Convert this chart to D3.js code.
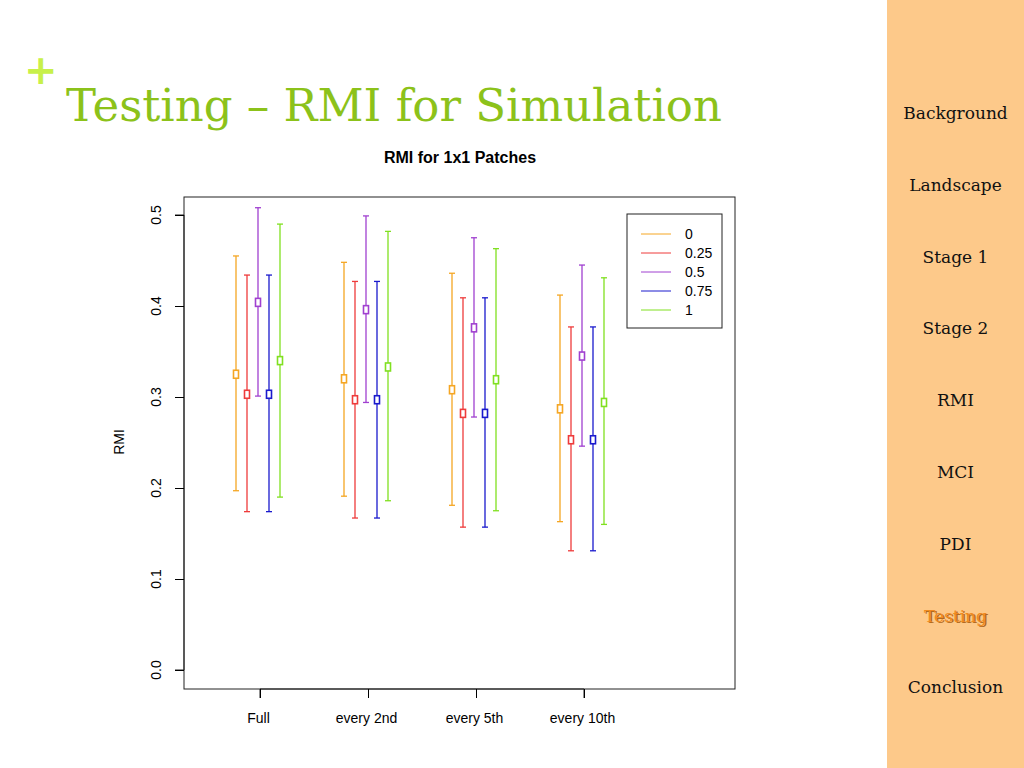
<!DOCTYPE html><html><head><meta charset="utf-8"><script src="https://cdn.jsdelivr.net/npm/d3@7"></script>
<style>body{margin:0;background:#fff}</style></head><body><svg id="c" width="1024" height="768"></svg>
<script>
const categories=["Full","every 2nd","every 5th","every 10th"];
const seriesNames=["0","0.25","0.5","0.75","1"];
const seriesColors=["#f5a623","#ee3b3b","#a040d0","#1a1acd","#80e020"];
const centers=[[0.325,0.303,0.404,0.303,0.340],[0.320,0.297,0.396,0.297,0.333],[0.308,0.282,0.376,0.282,0.319],[0.287,0.253,0.345,0.253,0.294]];
const uppers=[[0.455,0.434,0.508,0.434,0.490],[0.448,0.427,0.499,0.427,0.482],[0.436,0.409,0.475,0.409,0.463],[0.412,0.377,0.445,0.377,0.431]];
const lowers=[[0.197,0.174,0.301,0.174,0.190],[0.191,0.167,0.294,0.167,0.186],[0.181,0.157,0.278,0.157,0.175],[0.163,0.131,0.246,0.131,0.160]];
const yTicks=[0,0.1,0.2,0.3,0.4,0.5];
const navItems=["Background","Landscape","Stage 1","Stage 2","RMI","MCI","PDI","Testing","Conclusion"];
const svg=d3.select("#c");
svg.append("rect").attr("x",887).attr("y",0).attr("width",137).attr("height",768).attr("fill","#fdc98a");
navItems.forEach((t,i)=>{const y=119+i*71.8;
 if(t==="Testing")svg.append("text").attr("x",957).attr("y",y+1.5).attr("text-anchor","middle").attr("font-family","DejaVu Serif").attr("font-size",17).attr("fill","#b06a20").text(t);
 svg.append("text").attr("x",955.5).attr("y",y).attr("text-anchor","middle").attr("font-family","DejaVu Serif").attr("font-size",17).attr("fill",t==="Testing"?"#f08a20":"#111").text(t);});
svg.append("text").attr("x",24).attr("y",84).attr("font-family","DejaVu Sans").attr("font-weight","bold").attr("font-size",40).attr("fill","#c8f04a").text("+");
svg.append("text").attr("x",66).attr("y",121).attr("font-family","DejaVu Serif").attr("font-size",45).attr("fill","#8cc21a").text("Testing – RMI for Simulation");
svg.append("text").attr("x",460).attr("y",163).attr("text-anchor","middle").attr("font-family","Liberation Sans").attr("font-weight","bold").attr("font-size",16).text("RMI for 1x1 Patches");
const x=d3.scaleLinear().domain([1,4]).range([260,584]);
const y=d3.scaleLinear().domain([0,0.5]).range([670,215]);
const off=[-24,-13,-2,9,20];
svg.append("rect").attr("x",184).attr("y",197).attr("width",551).attr("height",492).attr("fill","none").attr("stroke","#222");
const ya=svg.append("g").attr("transform","translate(184,0)").call(d3.axisLeft(y).tickValues(yTicks).tickSize(9).tickFormat(""));
ya.select(".domain").attr("d","M-9,"+y(0)+"H0V"+y(0.5)+"H-9").attr("stroke","#222");
yTicks.forEach(v=>svg.append("text").attr("transform",`translate(161,${y(v)}) rotate(-90)`).attr("text-anchor","middle").attr("font-family","Liberation Sans").attr("font-size",14).text(d3.format(".1f")(v)));
svg.append("text").attr("transform","translate(124,442) rotate(-90)").attr("text-anchor","middle").attr("font-family","Liberation Sans").attr("font-size",14).text("RMI");
const xa=svg.append("g").attr("transform","translate(0,689)").call(d3.axisBottom(x).tickValues([1,2,3,4]).tickSize(9).tickFormat((d,i)=>categories[i]));
xa.select(".domain").attr("d","M"+x(1)+",9V0H"+x(4)+"V9").attr("stroke","#222");
xa.selectAll("text").attr("font-family","Liberation Sans").attr("font-size",14).attr("dy","1.6em").attr("dx","-2");
categories.forEach((c,ci)=>{seriesNames.forEach((s,si)=>{const cx=x(ci+1)+off[si],col=seriesColors[si],g=svg.append("g").attr("stroke",col).attr("fill","none").attr("stroke-width",1.3);
 g.append("line").attr("x1",cx).attr("x2",cx).attr("y1",y(uppers[ci][si])).attr("y2",y(lowers[ci][si]));
 [uppers[ci][si],lowers[ci][si]].forEach(v=>g.append("line").attr("x1",cx-3).attr("x2",cx+3).attr("y1",y(v)).attr("y2",y(v)));
 g.append("rect").attr("x",cx-2.5).attr("y",y(centers[ci][si])-4).attr("width",5).attr("height",8).attr("fill","#fff").attr("stroke-width",1.6);});});
svg.append("rect").attr("x",627).attr("y",214).attr("width",95).attr("height",114).attr("fill","#fff").attr("stroke","#222");
seriesNames.forEach((s,i)=>{const ly=234+i*19;svg.append("line").attr("x1",641).attr("x2",671).attr("y1",ly).attr("y2",ly).attr("stroke",seriesColors[i]);
 svg.append("text").attr("x",685).attr("y",ly+5).attr("font-family","Liberation Sans").attr("font-size",14).text(s);});
</script></body></html>
